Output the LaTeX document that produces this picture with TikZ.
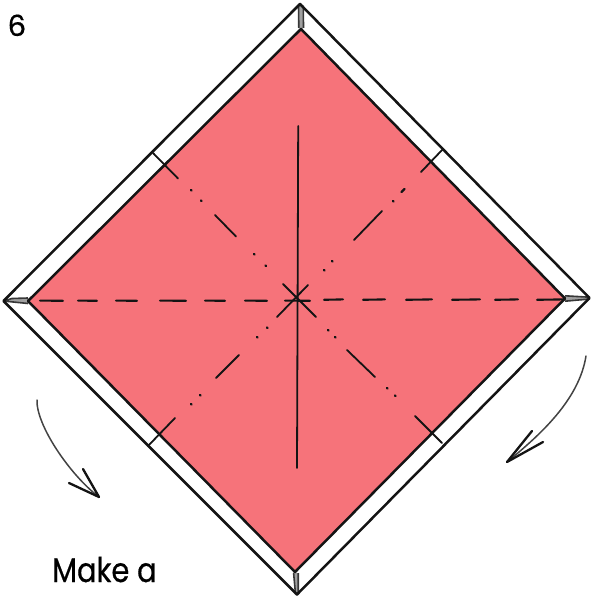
\documentclass[tikz,border=0pt]{standalone}
\usepackage{fontspec}
\setmainfont{Poppins}[FakeBold=0.6]
\definecolor{paperpink}{HTML}{F6737A}
\definecolor{inkblack}{HTML}{141414}
\definecolor{tabgrey}{HTML}{A0A0A0}
\tikzset{
  edgeline/.style={draw=inkblack,line width=2.5pt,line join=round,line cap=round},
  foldline/.style={draw=inkblack,line width=1.8pt,line cap=round},
  dashline/.style={draw=inkblack,line width=2.1pt,line cap=round},
  dotline/.style={draw=inkblack,line width=2.2pt,line cap=round},
  tabline/.style={draw=inkblack!85,line width=1.6pt},
  sketcharrow/.style={draw=inkblack!80,line width=1.5pt,line cap=round},
  sketchhead/.style={draw=inkblack,line width=2.3pt,line cap=round,line join=round},
  label/.style={inner sep=0pt,text=black},
}
\begin{document}
\begin{tikzpicture}[x=1pt,y=-1pt]
\useasboundingbox (0,0) rectangle (591,596);
\coordinate (OT) at (300,4);
\coordinate (OR) at (589.5,298);
\coordinate (OB) at (297,594.5);
\coordinate (OL) at (3.5,301);
\coordinate (IT) at (301,29);
\coordinate (IR) at (565,298.5);
\coordinate (IB) at (295,572);
\coordinate (IL) at (28,301);
% tabs at the corners
\fill[tabgrey] (3.5,301) -- (12,298.5) -- (28,298) -- (28,303.5) -- cycle;
\fill[tabgrey] (298.5,5) rectangle (303.5,28);
\fill[tabgrey] (565,295.5) -- (589.5,297) -- (589.5,299.5) -- (565,301.5) -- cycle;
\fill[tabgrey] (293.5,573) -- (298.5,573) -- (298.5,594) -- (295.5,594) -- cycle;
\draw[tabline] (3.5,301) -- (12,298.5) -- (28,298) (3.5,301) -- (28,303.5);
\draw[tabline] (298.5,6) -- (298.8,28) (303.3,6) -- (303.5,28);
\draw[tabline] (565,295.8) -- (589.5,297.2) (565,301.2) -- (589.5,299);
\draw[tabline] (293.6,573) -- (295.5,594) (298.2,573) -- (298.2,594);
% sheet
\path[fill=paperpink,edgeline] (IT) -- (IR) -- (IB) -- (IL) -- cycle;
\draw[edgeline] (OL) -- (OT) -- (OR) -- (OB) -- cycle;
% solid crease
\draw[foldline] (298.2,126) -- (297,468);
% horizontal dashes
\foreach \a/\b in {40/63,78/97,116/137,160/186,205/225,245/267,285/310}
  \draw[dashline] (\a,300.6) -- (\b,300.8);
\foreach \a/\b in {324/343,363/385,406/432,452/480,495/518,537/563}
  \draw[dashline] (\a,299.8) -- (\b,299.4);
% diagonals: long segments
\foreach \p/\q in {153/178,215/236}
  \draw[foldline] (\p,\p) -- (\q,\q+.5);
\draw[foldline] (283,284) -- (316,317);
\draw[foldline] (347,350) -- (375,377);
\draw[foldline] (415,416) -- (442,443);
\draw[foldline] (443,149) -- (421,172);
\draw[foldline] (382,211) -- (354,240);
\draw[foldline] (308,285) -- (277,317);
\draw[foldline] (239,355) -- (216,378);
\draw[foldline] (175,418) -- (148,446);
% dots
\foreach \x/\y in {191/190,201/200.5,254/254,265.5/265.5,
                   393/201,332/261,324/270,
                   328/330,335/337,387/388,395/395.5,
                   267/327.5,257/337,200/395,191/404}
  \draw[dotline] (\x,\y) -- (\x+.6,\y+.6);
\draw[dotline] (401.5,192) -- (404.5,189);
% arrows
\draw[sketcharrow] (37,400) .. controls (36,425) and (70,475) .. (99,497);
\draw[sketchhead] (69,483) -- (99,497) -- (83,469);
\draw[sketcharrow] (586,356) .. controls (579,400) and (540,435) .. (507,462);
\draw[sketchhead] (532,431) -- (507,462) -- (543,442);
% text
\node[label,anchor=base west,font=\fontsize{29}{34}\selectfont] (stepnum) at (7.5,36) {6};
\node[label,anchor=base west,xscale=.85,font=\fontsize{34}{40}\selectfont] (caption) at (52,582) {Make a};
\end{tikzpicture}
\end{document}
